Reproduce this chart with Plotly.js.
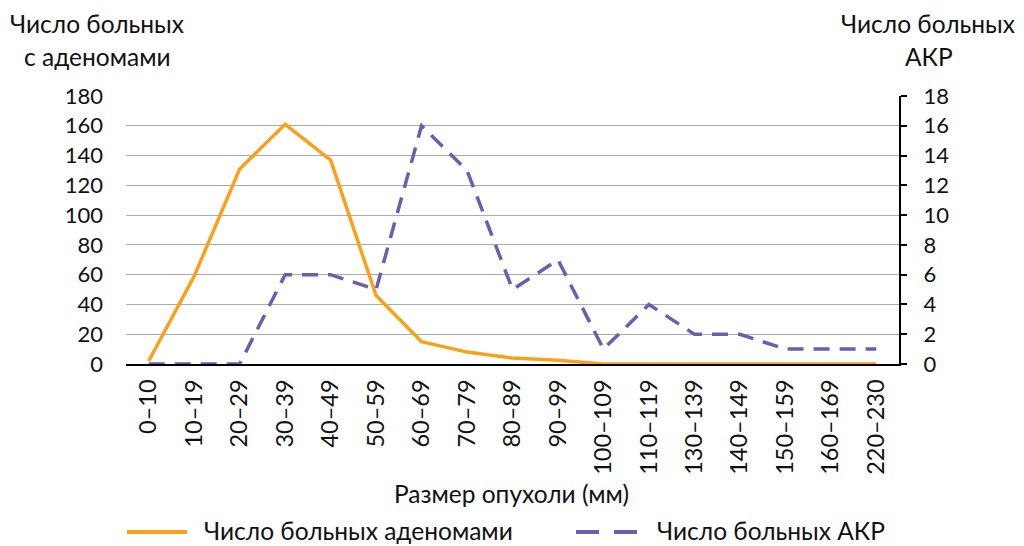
<!DOCTYPE html>
<html><head><meta charset="utf-8">
<script src="https://cdn.plot.ly/plotly-3.0.1.min.js"></script>
<style>body{margin:0;background:#fff}#c{width:1024px;height:546px}</style>
</head><body><div id="c"></div>
<script>
const categories = ["0–10","10–19","20–29","30–39","40–49","50–59","60–69","70–79","80–89","90–99","100–109","110–119","130–139","140–149","150–159","160–169","220–230"];
const adenomas = [2, 59, 131, 161, 137, 46, 15, 8, 4, 2.5, 0, 0, 0, 0, 0, 0, 0];
const akr = [0, 0, 0, 6, 6, 5, 16, 13, 5, 7, 1, 4, 2, 2, 1, 1, 1];
const leftTicks = [0,20,40,60,80,100,120,140,160,180];
const rightTicks = [0,2,4,6,8,10,12,14,16,18];
const seriesNames = ['Число больных аденомами', 'Число больных АКР'];
const colors = ['#F9A11B', '#6A5FAE'];

const FONT = "Lato, 'Noto Sans', sans-serif";
const TXT = 24.5, TICK = 22, XTICK = 23.5;
const W = 1024, H = 546, L = 126, R = 125, T = 96, B = 182;
const pw = W - L - R, ph = H - T - B;
const px = x => (x - L) / pw;          // pixel -> paper x
const py = y => (H - B - y) / ph;      // pixel -> paper y

const data = [
  {x: categories, y: adenomas, type:'scatter', mode:'lines', name:seriesNames[0],
   line:{color:colors[0], width:3.5}, yaxis:'y', showlegend:false},
  {x: categories, y: akr, type:'scatter', mode:'lines', name:seriesNames[1],
   line:{color:colors[1], width:3.5, dash:'16px,10px'}, yaxis:'y2', showlegend:false}
];
const ann = (text, x, y, xa) => ({text, xref:'paper', yref:'paper', x:px(x), y:py(y),
  xanchor:xa, yanchor:'middle', showarrow:false, font:{size:TXT, color:'#111'}});
const layout = {
  width:W, height:H,
  margin:{l:L, r:R, t:T, b:B},
  paper_bgcolor:'#fff', plot_bgcolor:'#fff',
  font:{family:FONT, size:TXT, color:'#111'},
  showlegend:false,
  xaxis:{type:'category', range:[-0.5,16.5], tickangle:-90, showgrid:false, automargin:false,
         showline:true, linecolor:'#000', linewidth:2, ticks:'', zeroline:false,
         ticklabelstandoff:4, tickfont:{size:XTICK}},
  yaxis:{range:[0,180], tickvals:leftTicks, showgrid:true, gridcolor:'#ABABAB', gridwidth:1.2,
         automargin:false, zeroline:false, showline:false, ticks:'', ticklabelstandoff:22, tickfont:{size:TICK}},
  yaxis2:{range:[0,18], tickvals:rightTicks, overlaying:'y', side:'right', showgrid:false, automargin:false,
          zeroline:false, showline:true, linecolor:'#000', linewidth:2, ticks:'outside',
          ticklen:6, tickwidth:2, tickcolor:'#000', ticklabelstandoff:12, tickfont:{size:TICK}},
  shapes:[
    {type:'line', xref:'paper', yref:'paper', x0:px(127), x1:px(187), y0:py(532), y1:py(532),
     line:{color:colors[0], width:4}},
    {type:'line', xref:'paper', yref:'paper', x0:px(576), x1:px(599), y0:py(532), y1:py(532),
     line:{color:colors[1], width:4}},
    {type:'line', xref:'paper', yref:'paper', x0:px(614), x1:px(637), y0:py(532), y1:py(532),
     line:{color:colors[1], width:4}}
  ],
  annotations:[
    ann('Число больных', 8, 23, 'left'),
    ann('с аденомами', 22, 56, 'left'),
    ann('Число больных', 1017, 23, 'right'),
    ann('АКР', 929, 56, 'center'),
    ann('Размер опухоли (мм)', 511, 493, 'center'),
    ann(seriesNames[0], 202, 530, 'left'),
    ann(seriesNames[1], 655, 530, 'left')
  ]
};
Plotly.newPlot('c', data, layout, {displayModeBar:false, staticPlot:true});
</script></body></html>
